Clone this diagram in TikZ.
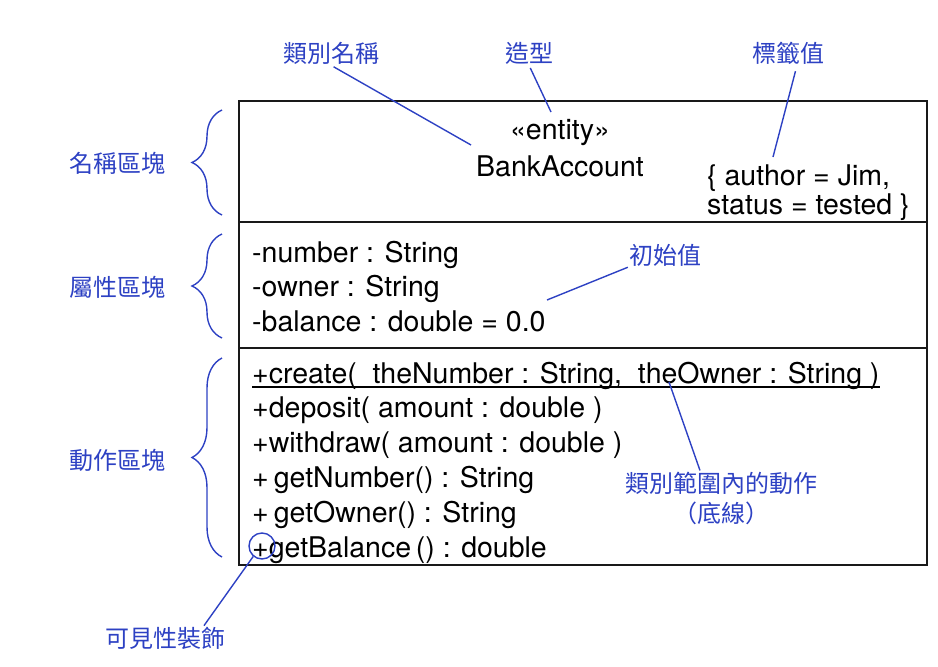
\documentclass[tikz,border=0pt]{standalone}
\usepackage{fontspec}
\setmainfont{TeX Gyre Heros}
\newfontfamily\cjk{Noto Sans CJK TC}
\usetikzlibrary{positioning, decorations.pathreplacing}
\definecolor{noteblue}{RGB}{45, 65, 195}
\definecolor{inkblack}{RGB}{25, 25, 25}

\begin{document}
\begin{tikzpicture}[
    x=1pt, y=-1pt,
    compart/.style={draw=inkblack, line width=1.6pt, minimum width=688pt,
                    anchor=north west, inner sep=0pt, outer sep=0pt},
    umltext/.style={inner sep=0pt, font=\fontsize{28.5}{34}\selectfont},
    member/.style={umltext, anchor=north west, text height=24.4pt,
                   text depth=10pt},
    note/.style={text=noteblue, inner sep=1pt,
                 font=\cjk\fontsize{24}{30}\selectfont},
    noteline/.style={draw=noteblue, line width=1.4pt},
    sectbrace/.style={draw=noteblue, line width=1.4pt, decorate,
                      decoration={brace, amplitude=30pt, aspect=0.5}}
]
    \useasboundingbox (0,0) rectangle (938,667);

    % class box
    \node[compart, minimum height=121pt] (namePart) at (239,101) {};
    \node[compart, minimum height=126pt] (attrPart) at (namePart.south west) {};
    \node[compart, minimum height=217pt] (opPart) at (attrPart.south west) {};

    % name compartment
    \node[umltext] (stereo) at (560,133) {«entity»};
    \node[umltext] (clsName) at (560,166) {BankAccount};
    \node[umltext, anchor=base west] (tagAuthor) at (707,185) {\{ author = Jim,};
    \node[umltext, anchor=base west] (tagStatus) at (707,214) {status = tested \}};

    % attributes
    \node[member, anchor=base west] (attrNumber) at (252,262) {-number : String};
    \node[member] (attrOwner) at (attrNumber.south west) {-owner : String};
    \node[member] (attrBalance) at (attrOwner.south west) {-balance : double = 0.0};

    % operations
    \node[member, anchor=base west] (opCreate) at (252,383)
        {+create(~ theNumber : String,~ theOwner : String )};
    \node[member] (opDeposit) at (opCreate.south west) {+deposit( amount : double )};
    \node[member] (opWithdraw) at (opDeposit.south west) {+withdraw( amount : double )};
    \node[member] (opNumber) at (opWithdraw.south west) {+\kern5pt getNumber() : String};
    \node[member] (opOwner) at (opNumber.south west) {+\kern5pt getOwner() : String};
    \node[member] (opBalance) at (opOwner.south west) {+getBalance\,() : double};
    \draw[line width=1.2pt] ([yshift=-4pt]opCreate.base west) -- ([yshift=-4pt]opCreate.base east);

    % visibility mark
    \node[circle, draw=noteblue, line width=1.4pt, minimum size=26pt,
          inner sep=0pt] (visMark) at (262,546) {};

    % notes
    \node[note] (lblClassName) at (331,53) {類別名稱};
    \node[note] (lblStereo) at (529,53) {造型};
    \node[note] (lblTagged) at (788,53) {標籤值};
    \node[note] (lblInit) at (665,255) {初始值};
    \node[note, align=center] (lblScope) at (721,498) {類別範圍內的動作\\（底線）};
    \node[note] (lblVis) at (165,638) {可見性裝飾};
    \node[note] (lblNameSec) at (117,163) {名稱區塊};
    \node[note] (lblAttrSec) at (117,287) {屬性區塊};
    \node[note] (lblOpSec) at (117,460) {動作區塊};

    % pointer ends
    \coordinate (pClassName) at (471,145);
    \coordinate (pStereo) at (551,112);
    \coordinate (pTagged) at (773,157);
    \coordinate (pInit) at (547,300);
    \coordinate (pScope) at (669,382);

    \draw[noteline, shorten <=3pt] (lblClassName.south) -- (pClassName);
    \draw[noteline, shorten <=3pt] (lblStereo.south) -- (pStereo);
    \draw[noteline, shorten <=6pt] ([xshift=9pt]lblTagged.south) -- (pTagged);
    \draw[noteline] (lblInit.south west) -- (pInit);
    \draw[noteline] ([xshift=-21pt]lblScope.north) -- (pScope);
    \draw[noteline] ([xshift=39pt]lblVis.north) -- (visMark.230);

    % section braces
    \draw[sectbrace] (222,215) -- (222,110);
    \draw[sectbrace] (222,338) -- (222,234);
    \draw[sectbrace] (222,557) -- (222,358);
\end{tikzpicture}
\end{document}
